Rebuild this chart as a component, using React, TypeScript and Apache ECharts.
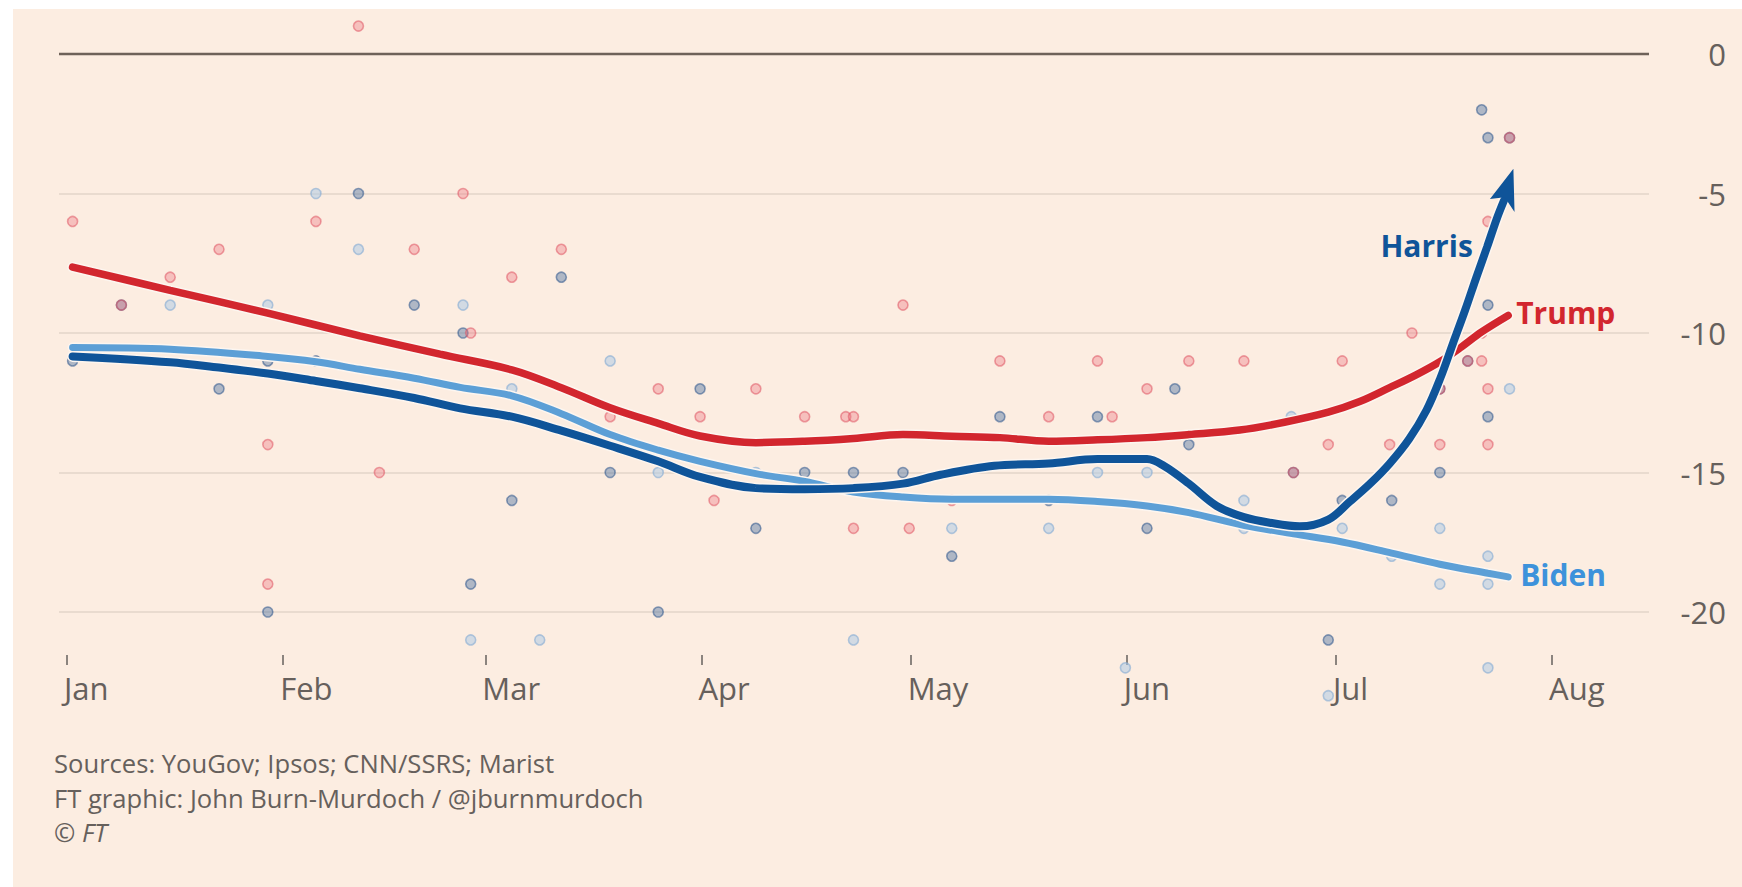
import React, { useEffect, useRef } from "react";
import * as echarts from "echarts";

// x values are days since 1 January 2024
const monthDays = [0, 31, 60, 91, 121, 152, 182, 213];
const monthLabels = ["Jan", "Feb", "Mar", "Apr", "May", "Jun", "Jul", "Aug"];

const trumpPolls = [
  [0.8, -6], [7.8, -9], [14.8, -8], [21.8, -7], [28.8, -14], [28.8, -19], [35.7, -6], [41.8, 1],
  [44.8, -15], [49.8, -7], [56.8, -5], [57.9, -10], [63.8, -8], [70.9, -7], [77.9, -13], [84.8, -12],
  [90.8, -13], [92.8, -16], [98.8, -12], [105.8, -13], [111.7, -13], [112.8, -13], [112.8, -17],
  [119.9, -9], [120.8, -17], [126.9, -16], [133.8, -11], [140.8, -13], [147.8, -11], [149.9, -13],
  [154.9, -12], [160.9, -11], [168.8, -11], [175.9, -15], [180.9, -14], [182.9, -11], [189.7, -14],
  [192.9, -10], [196.9, -12], [196.9, -14], [200.9, -11], [202.9, -10], [202.9, -11], [203.8, -6],
  [203.8, -12], [203.8, -14], [206.9, -3],
];

const harrisPolls = [
  [0.8, -11], [7.8, -9], [21.8, -12], [28.8, -11], [28.8, -20], [35.7, -11], [41.8, -5], [49.8, -9],
  [56.8, -10], [57.9, -19], [63.8, -16], [70.9, -8], [77.9, -15], [84.8, -20], [90.8, -12], [98.8, -17],
  [105.8, -15], [112.8, -15], [119.9, -15], [126.9, -18], [133.8, -13], [140.8, -16], [147.8, -13],
  [154.9, -17], [158.9, -12], [160.9, -14], [175.9, -15], [180.9, -21], [182.9, -16], [190, -16],
  [196.9, -12], [196.9, -15], [200.9, -11], [202.9, -2], [203.8, -3], [203.8, -9], [203.8, -13],
  [206.9, -3],
];

const bidenPolls = [
  [14.8, -9], [28.8, -9], [35.7, -5], [41.8, -7], [56.8, -9], [57.9, -21], [63.8, -12], [67.8, -21],
  [77.9, -11], [84.8, -15], [98.8, -15], [112.8, -21], [126.9, -17], [140.8, -17], [147.8, -15],
  [151.8, -22], [154.9, -15], [168.8, -16], [168.8, -17], [175.6, -13], [180.9, -23], [182.9, -17],
  [190, -18], [196.9, -17], [196.9, -19], [203.8, -18], [203.8, -19], [203.8, -22], [206.9, -12],
];

const trumpTrend = [
  [0.8, -7.64], [14.8, -8.47], [28.8, -9.29], [42, -10.1], [53.5, -10.76], [63.8, -11.32],
  [70.9, -11.96], [77.9, -12.68], [84.8, -13.24], [90.8, -13.69], [98.8, -13.93], [105.8, -13.88],
  [112.8, -13.78], [119.9, -13.64], [126.9, -13.7], [133.8, -13.75], [140.8, -13.88], [147.8, -13.83],
  [154.9, -13.75], [160.9, -13.64], [168.2, -13.48], [174.6, -13.2], [180.9, -12.84], [185.5, -12.45],
  [189.7, -11.96], [193.5, -11.5], [196.9, -11.03], [200, -10.5], [202.9, -9.96], [206.7, -9.37],
];

const harrisTrend = [
  [0.8, -10.84], [14.8, -11.05], [21.8, -11.24], [28.8, -11.45], [35.7, -11.72], [42, -11.98],
  [49.8, -12.33], [56.4, -12.7], [63.8, -13.0], [70.9, -13.5], [77.9, -14.04], [84.8, -14.6],
  [90.8, -15.16], [98.8, -15.56], [105.8, -15.6], [112.8, -15.56], [119.9, -15.4], [125.3, -15.08],
  [133, -14.76], [140.8, -14.68], [147.8, -14.52], [154.9, -14.52], [157.3, -14.76], [160.9, -15.4],
  [164.9, -16.2], [168.8, -16.6], [172.5, -16.8], [176.8, -16.93], [180.9, -16.69], [184, -16.04],
  [186.9, -15.4], [189.7, -14.68], [192.5, -13.8], [195, -12.76], [197, -11.6], [198.8, -10.36],
  [200.5, -9.2], [202.2, -7.96], [203.7, -6.9], [205.1, -5.88], [206.1, -5.25],
];

const bidenTrend = [
  [0.8, -10.52], [14.8, -10.58], [28.8, -10.84], [35.7, -11.03], [42, -11.3], [49.8, -11.62],
  [56.4, -11.95], [63.8, -12.25], [70.9, -12.89], [77.9, -13.64], [84.8, -14.2], [90.8, -14.6],
  [98.8, -15.04], [105.8, -15.32], [112.8, -15.7], [119.9, -15.88], [126.9, -15.96], [133.8, -15.96],
  [140.8, -15.96], [147.8, -16.04], [154.9, -16.2], [160.9, -16.44], [168.9, -16.9], [175.9, -17.2],
  [182.9, -17.49], [190, -17.89], [196.9, -18.29], [203.8, -18.61], [206.7, -18.74],
];

const harrisArrowHead = [[205.85, -4.89]];
const harrisLabelPoint = [[201.7, -6.87]];

const sourceLines = [
  "Sources: YouGov; Ipsos; CNN/SSRS; Marist",
  "FT graphic: John Burn-Murdoch / @jburnmurdoch",
];

const BG = "#fcede1";
const FONT = "'Open Sans', 'Noto Sans', sans-serif";
const TEXT = "#66605c";
const RED = "#d2262e";
const NAVY = "#0f5499";
const LIGHT = "#5c9fd6";
// arrowhead pointing up, tilted 22 degrees clockwise
const ARROW_PATH = "path://M6.74,-16.69 L8.1,22.68 L-3.75,9.27 L-21.58,10.7 Z";

function trendSeries(name: string, data: number[][], color: string, width: number, extra: any = {}) {
  return [
    {
      name: name + " halo",
      type: "line",
      data,
      smooth: 0.35,
      showSymbol: false,
      symbol: "none",
      silent: true,
      clip: false,
      lineStyle: { color: "#fdf6f0", width: width + 3, cap: "round" },
    },
    {
      name,
      type: "line",
      data,
      smooth: 0.35,
      showSymbol: false,
      symbol: "none",
      silent: true,
      clip: false,
      lineStyle: { color, width, cap: "round" },
      ...extra,
    },
  ];
}

function pollSeries(name: string, data: number[][], fill: string, border: string) {
  return {
    name,
    type: "scatter",
    data,
    clip: false,
    silent: true,
    symbolSize: 10,
    itemStyle: { color: fill, borderColor: border, borderWidth: 1.6, opacity: 1 },
  };
}

export default function App() {
  const ref = useRef<HTMLDivElement>(null);

  useEffect(() => {
    if (!ref.current) return;
    const chart = echarts.init(ref.current, undefined, { renderer: "svg" });
    const option: any = {
      animation: false,
      backgroundColor: BG,
      textStyle: { fontFamily: FONT },
      grid: { left: 46, right: 93, top: 45, bottom: 275, containLabel: false },
      xAxis: {
        type: "value",
        min: -1.15,
        max: 226.9,
        offset: 43,
        axisLine: { show: false, onZero: false },
        axisTick: {
          show: true,
          length: 10,
          customValues: monthDays,
          lineStyle: { color: TEXT, width: 1.5 },
        },
        axisLabel: {
          customValues: monthDays,
          formatter: (v: number) => {
            const i = monthDays.indexOf(v);
            return i >= 0 ? monthLabels[i] : "";
          },
          fontSize: 31,
          color: TEXT,
          fontFamily: FONT,
          align: "left",
          margin: 17,
          padding: [0, 0, 0, -3],
        },
        splitLine: { show: false },
      },
      yAxis: {
        type: "value",
        position: "right",
        min: -20,
        max: 0,
        interval: 5,
        axisLine: { show: false },
        axisTick: { show: false },
        axisLabel: { fontSize: 31, color: TEXT, fontFamily: FONT, align: "right", margin: 77 },
        splitLine: { lineStyle: { color: "#e3d5c9", width: 1.5 } },
      },
      series: [
        {
          ...pollSeries("Biden polls", bidenPolls, "rgba(175,203,230,0.55)", "rgba(140,175,212,0.65)"),
          markLine: {
            silent: true,
            symbol: ["none", "none"],
            label: { show: false },
            lineStyle: { color: "#6e6259", width: 2.4, type: "solid" },
            data: [{ yAxis: 0 }],
          },
        },
        pollSeries("Harris polls", harrisPolls, "rgba(70,110,160,0.42)", "rgba(45,85,140,0.55)"),
        pollSeries("Trump polls", trumpPolls, "rgba(238,125,135,0.4)", "rgba(222,80,95,0.52)"),
        ...trendSeries("Trump", trumpTrend, RED, 7.5, {
          endLabel: {
            show: true,
            formatter: "Trump",
            color: RED,
            fontSize: 30,
            fontWeight: "bold",
            fontFamily: FONT,
            distance: 8,
            offset: [0, -3],
          },
        }),
        ...trendSeries("Biden", bidenTrend, LIGHT, 7, {
          endLabel: {
            show: true,
            formatter: "Biden",
            color: "#3d92db",
            fontSize: 30,
            fontWeight: "bold",
            fontFamily: FONT,
            distance: 12,
            offset: [0, -2],
          },
        }),
        ...trendSeries("Harris", harrisTrend, NAVY, 8),
        {
          name: "Harris arrow",
          type: "scatter",
          data: harrisArrowHead,
          clip: false,
          silent: true,
          symbol: ARROW_PATH,
          symbolSize: [32.6, 43.3],
          symbolKeepAspect: true,
          itemStyle: { color: NAVY, opacity: 1 },
          z: 5,
        },
        {
          name: "Harris label",
          type: "scatter",
          data: harrisLabelPoint,
          clip: false,
          silent: true,
          symbolSize: 1,
          itemStyle: { color: "transparent", opacity: 1 },
          label: {
            show: true,
            position: "left",
            distance: 0,
            formatter: "Harris",
            color: NAVY,
            fontSize: 30,
            fontWeight: "bold",
            fontFamily: FONT,
          },
          z: 5,
        },
      ],
      graphic: [
        {
          type: "text",
          x: 41,
          y: 754,
          silent: true,
          style: { text: sourceLines[0], fill: TEXT, fontSize: 25.6, fontFamily: FONT, verticalAlign: "middle" },
        },
        {
          type: "text",
          x: 41,
          y: 789,
          silent: true,
          style: { text: sourceLines[1], fill: TEXT, fontSize: 25.6, fontFamily: FONT, verticalAlign: "middle" },
        },
        {
          type: "text",
          x: 41,
          y: 823,
          silent: true,
          style: {
            text: "{a|© }{b|FT}",
            fill: TEXT,
            fontSize: 25.6,
            fontFamily: FONT,
            verticalAlign: "middle",
            rich: {
              a: { fontSize: 25.6, fontFamily: FONT, color: TEXT },
              b: { fontSize: 25.6, fontFamily: FONT, color: TEXT, fontStyle: "italic" },
            },
          },
        },
      ],
    };
    chart.setOption(option);
    return () => chart.dispose();
  }, []);

  return (
    <div style={{ position: "fixed", left: 0, top: 0, width: 1742, height: 887, background: "#ffffff" }}>
      <div ref={ref} style={{ position: "absolute", left: 13, top: 9, width: 1729, height: 878 }} />
    </div>
  );
}
